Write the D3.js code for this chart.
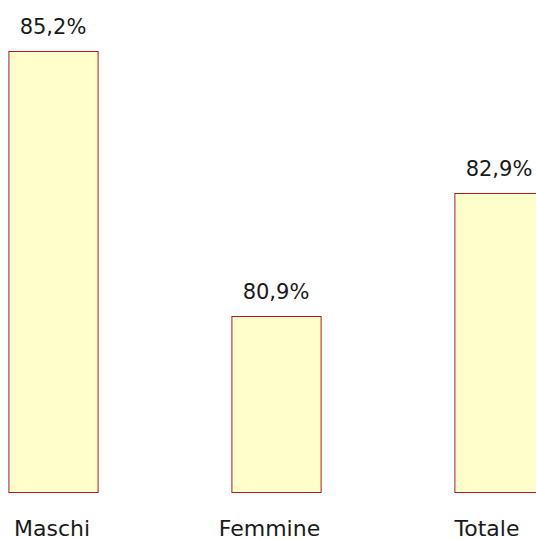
<!doctype html>
<html lang="it">
<head>
<meta charset="utf-8">
<script src="https://d3js.org/d3.v7.min.js"></script>
<style>
  html, body { margin: 0; padding: 0; background: #fff; }
  svg text { font-family: "DejaVu Sans", sans-serif; fill: #1a1a1a; }
</style>
</head>
<body>
<div id="chart"></div>
<script>
var categories = ["Maschi", "Femmine", "Totale"];
var values = [85.2, 80.9, 82.9];

var width = 536, height = 540;
var plotBottom = 492;

var svg = d3.select("#chart").append("svg")
    .attr("width", width)
    .attr("height", height);

// bars sit on a truncated axis (Excel style)
var x = d3.scaleBand()
    .domain(categories)
    .range([-58.5, 610.5])
    .paddingInner(0.6)
    .paddingOuter(0.3);

var xLabel = d3.scalePoint()
    .domain(categories)
    .range([52, 487]);

var y = d3.scaleLinear()
    .domain([78.06, 85.2])
    .range([plotBottom, 50.7]);

var fmt = function(v) { return d3.format(".1f")(v).replace(".", ",") + "%"; };

var data = categories.map(function(c, i) { return {cat: c, val: values[i]}; });

svg.append("g")
    .selectAll("rect")
    .data(data)
    .join("rect")
    .attr("x", d => x(d.cat) + 0.5)
    .attr("y", d => Math.round(y(d.val)) + 0.5)
    .attr("width", x.bandwidth())
    .attr("height", d => plotBottom - Math.round(y(d.val)))
    .attr("fill", "#ffffcc")
    .attr("stroke", "#b01c1c")
    .attr("stroke-width", 1);

svg.append("g")
    .selectAll("text")
    .data(data)
    .join("text")
    .attr("x", d => x(d.cat) + x.bandwidth() / 2)
    .attr("y", d => y(d.val) - 17)
    .attr("text-anchor", "middle")
    .attr("font-size", "21px")
    .text(d => fmt(d.val));

svg.append("g")
    .selectAll("text")
    .data(categories)
    .join("text")
    .attr("x", d => xLabel(d))
    .attr("y", 536)
    .attr("text-anchor", "middle")
    .attr("font-size", "22px")
    .text(d => d);
</script>
</body>
</html>
